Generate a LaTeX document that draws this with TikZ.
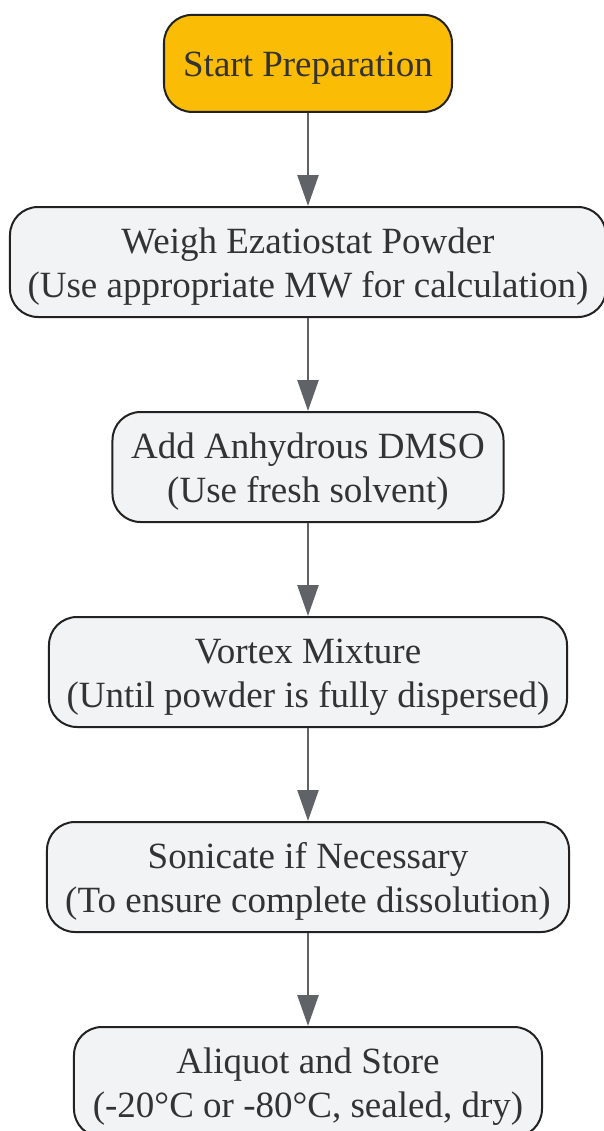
\documentclass[tikz,border=0pt]{standalone}
\usepackage{fontspec}
\setmainfont{Liberation Serif}
\usetikzlibrary{arrows.meta}
\definecolor{startfill}{HTML}{FBBC05}
\definecolor{boxfill}{HTML}{F1F3F5}
\definecolor{boxline}{HTML}{222222}
\definecolor{txtcol}{HTML}{333333}
\definecolor{arrcol}{HTML}{5F6368}
\tikzset{
  stepbox/.style={draw=boxline, line width=2bp, fill=boxfill, rounded corners=28bp,
    align=center, text=txtcol, minimum height=110bp, inner sep=0pt,
    font={\fontsize{37bp}{44bp}\selectfont}, text height=80bp, text depth=10bp},
  startbox/.style={stepbox, fill=startfill, minimum height=97bp, text height=28bp, text depth=1.4bp},
  flow/.style={draw=arrcol, line width=2.5bp, -{Triangle[width=21bp,length=31bp]}}
}
\begin{document}
\begin{tikzpicture}[x=1bp,y=1bp]
\useasboundingbox (0,0) rectangle (604,-1131);
\node[startbox, minimum width=288bp] (n1) at (308,-63.4) {Start Preparation};
\node[stepbox, minimum width=596bp] (n2) at (308,-262) {Weigh Ezatiostat Powder\\(Use appropriate MW for calculation)};
\node[stepbox, minimum width=391bp] (n3) at (308,-467) {Add Anhydrous DMSO\\(Use fresh solvent)};
\node[stepbox, minimum width=518bp] (n4) at (308,-672) {Vortex Mixture\\(Until powder is fully dispersed)};
\node[stepbox, minimum width=522bp] (n5) at (308,-877) {Sonicate if Necessary\\(To ensure complete dissolution)};
\node[stepbox, minimum width=468bp] (n6) at (308,-1082) {Aliquot and Store\\(-20°C or -80°C, sealed, dry)};
\draw[flow] (n1) -- (n2);
\draw[flow] (n2) -- (n3);
\draw[flow] (n3) -- (n4);
\draw[flow] (n4) -- (n5);
\draw[flow] (n5) -- (n6);
\end{tikzpicture}
\end{document}
